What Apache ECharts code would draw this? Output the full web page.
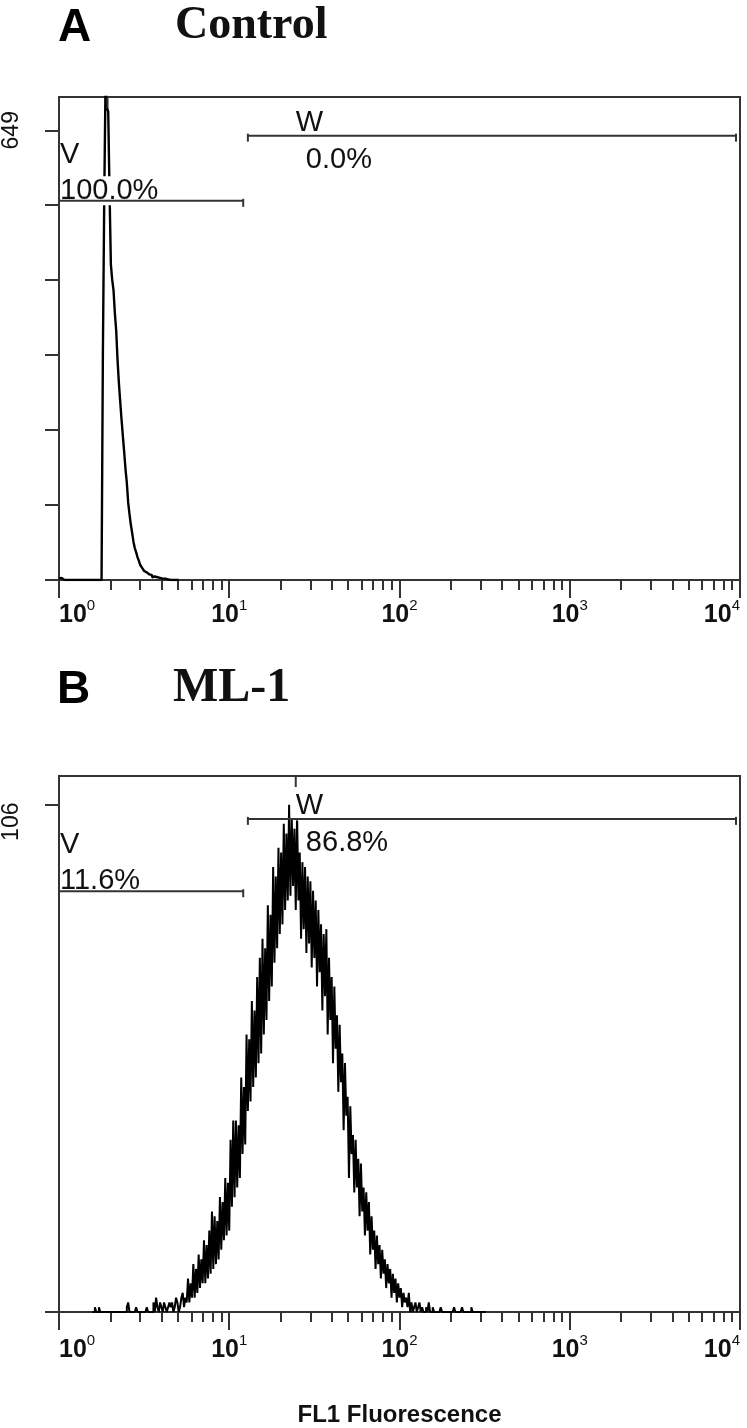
<!DOCTYPE html>
<html><head><meta charset="utf-8">
<script src="https://cdn.jsdelivr.net/npm/echarts@6/dist/echarts.min.js"></script>
<style>html,body{margin:0;padding:0;background:#fff}#c{width:747px;height:1428px}</style>
</head><body><div id="c"></div>
<script>
// ---- data (FL1 channel scale: 1024 channels over 4 log decades) ----
const DECADE_CHANNELS = [0, 256, 512, 768, 1024];
const DECADE_EXPONENTS = ['0', '1', '2', '3', '4'];
const BIN_WIDTH = 2; // channels per histogram bin

// Panel A (Control): counts per 2-channel bin starting at channel 0
const A_START = 0;
const A_COUNTS = [
  2,3,1,0,2,0,1,0, 0,0,0,0,0,0,0,0,
  0,0,0,0,0,0,0,0, 0,0,0,0,0,0,0,0,
  3,328,548,720,682,676,560,455,
  433,418,385,360,318,285,258,232,
  208,185,160,140,112,95,80,68,
  55,46,40,33,28,22,19,16,
  13,11,9,8,6,7,4,5,
  3,4,2,3,1,2,1,2,
  0,1,2,0,1,0,1,0, 0,0
];

// Panel B (ML-1): counts per 2-channel bin starting at channel 50
const B_START = 50;
const B_COUNTS = [
  0,0,1,0, 0,1,0,0, 0,0,0,0, 0,0,0,0,
  0,0,0,0, 0,0,0,0, 0,0,1,2, 0,0,0,0,
  0,1,0,0, 0,0,0,0, 0,1,0,0, 0,0,2,0,
  3,1,0,2, 1,0,2,1, 0,1,2,1, 2,0,1,3,
  2,0,1,3, 4,1,3,2, 7,2,6,3, 10,3,9,4,
  12,5,11,6, 15,6,14,7, 17,8,21,9, 20,10,19,11,
  24,13,23,15, 28,16,27,17, 36,22,40,24, 40,26,39,28,
  49,33,47,35, 58,42,57,44, 65,47,63,49, 70,52,74,54,
  78,58,76,61, 85,65,83,68, 93,73,91,76, 97,79,96,81,
  102,84,100,86, 106,87,103,89, 101,84,104,86, 96,78,94,80,
  93,75,91,77, 90,72,88,74, 86,68,84,71, 81,63,79,66,
  80,58,74,61, 70,52,68,55, 62,46,60,48, 54,38,52,41,
  45,28,43,33, 37,25,36,26, 32,20,31,21, 26,16,25,17,
  23,12,20,13, 17,9,16,10, 14,7,13,8, 11,5,10,6,
  9,3,8,4, 7,2,6,3, 5,1,4,2, 3,1,4,0,
  2,0,1,2, 0,1,2,0, 1,0,0,1, 0,2,0,0,
  1,0,0,0, 0,0,1,0, 0,0,0,0, 0,0,0,0,
  1,0,0,0, 0,0,1,0, 0,0,0,0, 0,1,0,0,
  0,0,0,0, 0,0,0,0
];

const A_Y_MAX = 697, A_Y_LABEL = 649;
const B_Y_MAX = 112, B_Y_LABEL = 106;

// Gates (channels) and their percentages
const GATE_NAMES = ['V', 'W'];
const GATE_FROM = [0, 284];
const GATE_TO = [277, 1018];
const A_PCT = ['100.0%', '0.0%'];
const B_PCT = ['11.6%', '86.8%'];
const A_PEAK_CH = 73, B_PEAK_CH = 356;

const A_TITLE = 'Control', B_TITLE = 'ML-1';
const X_NAME = 'FL1 Fluorescence';

// ---- layout / style ----
const GATE_LEVEL = [0.785, 0.92];
const FRAME = '#333';
const SANS = '"Liberation Sans", Arial, sans-serif';
const SERIF = '"Liberation Serif", "Times New Roman", serif';

function histData(start, counts) {
  const d = counts.map((c, i) => [start + i * BIN_WIDTH, c]);
  d.push([start + counts.length * BIN_WIDTH, 0]);
  return d;
}
const MINOR = [];
for (let d = 0; d < 4; d++) for (let k = 2; k <= 9; k++) MINOR.push(256 * (d + Math.log10(k)));

function xAxes(grid, margin, withName) {
  const major = {
    gridIndex: grid, type: 'value', min: 0, max: 1024, position: 'bottom',
    axisLine: { show: true, onZero: false, lineStyle: { color: FRAME, width: 2 } },
    axisTick: { show: true, customValues: DECADE_CHANNELS, length: 18, lineStyle: { color: FRAME, width: 2 } },
    axisLabel: {
      customValues: DECADE_CHANNELS, margin: margin,
      alignMinLabel: 'left', alignMaxLabel: 'right',
      formatter: v => '{b|10}{s|' + DECADE_EXPONENTS[DECADE_CHANNELS.indexOf(v)] + '}',
      rich: {
        b: { fontSize: 25, fontWeight: 'bold', fontFamily: SANS, color: '#111', lineHeight: 30, verticalAlign: 'bottom' },
        s: { fontSize: 15, fontFamily: SANS, color: '#111', lineHeight: 15, verticalAlign: 'top' }
      }
    },
    splitLine: { show: false }
  };
  if (withName) {
    major.name = X_NAME; major.nameLocation = 'middle'; major.nameGap = 91;
    major.nameTextStyle = { fontSize: 24, fontWeight: 'bold', fontFamily: SANS, color: '#111' };
  }
  const minor = {
    gridIndex: grid, type: 'value', min: 0, max: 1024, position: 'bottom',
    axisLine: { show: false },
    axisTick: { show: true, customValues: MINOR, length: 10, lineStyle: { color: FRAME, width: 2 } },
    axisLabel: { show: false }, splitLine: { show: false }
  };
  return [major, minor];
}
function yAxis(grid, max, ticks, label, padding) {
  return {
    gridIndex: grid, type: 'value', min: 0, max: max,
    axisLine: { show: true, lineStyle: { color: FRAME, width: 2 } },
    axisTick: { show: true, customValues: ticks, length: 14, lineStyle: { color: FRAME, width: 2 } },
    axisLabel: { customValues: [label], rotate: 90, margin: 36, fontSize: 23, fontFamily: SANS, color: '#111', padding: padding },
    splitLine: { show: false }
  };
}
function gateSeries(xi, yi, ymax, pcts) {
  return {
    type: 'custom', xAxisIndex: xi, yAxisIndex: yi, z: 10, silent: true,
    data: GATE_NAMES.map((n, i) => [GATE_FROM[i], GATE_TO[i], i]),
    renderItem: (params, api) => {
      const i = api.value(2);
      const p0 = api.coord([api.value(0), ymax * GATE_LEVEL[i]]);
      const p1 = api.coord([api.value(1), ymax * GATE_LEVEL[i]]);
      const y = p0[1];
      const font = '29px ' + SANS;
      const isV = i === 0;
      const nameY = isV ? y - 46 : y - 13;
      const nameX = isV ? p0[0] + 1 : p0[0] + 48;
      const pctY = isV ? y - 10 : y + 24;
      const pctX = isV ? p0[0] + 1 : p0[0] + 58;
      const ls = { stroke: '#333', lineWidth: 2 };
      return { type: 'group', children: [
        { type: 'text', x: nameX, y: nameY, style: { text: GATE_NAMES[i], font: font, fill: '#111', align: 'left', verticalAlign: 'middle', backgroundColor: '#fff' } },
        { type: 'text', x: pctX, y: pctY, style: { text: pcts[i], font: font, fill: '#111', align: 'left', verticalAlign: 'middle', backgroundColor: '#fff' } },
        { type: 'line', shape: { x1: p0[0], y1: y, x2: p1[0], y2: y }, style: ls },
        { type: 'line', shape: { x1: p0[0], y1: y - 2, x2: p0[0], y2: y + 6 }, style: ls },
        { type: 'line', shape: { x1: p1[0], y1: y - 2, x2: p1[0], y2: y + 6 }, style: ls }
      ]};
    }
  };
}
function peakSeries(xi, yi, ymax, ch) {
  return {
    type: 'custom', xAxisIndex: xi, yAxisIndex: yi, z: 9, silent: true,
    data: [[ch, ymax]],
    renderItem: (params, api) => {
      const p = api.coord([api.value(0), api.value(1)]);
      return { type: 'line', shape: { x1: p[0], y1: p[1], x2: p[0], y2: p[1] + 11 }, style: { stroke: '#333', lineWidth: 2 } };
    }
  };
}
function histSeries(xi, yi, data, w) {
  return {
    type: 'line', xAxisIndex: xi, yAxisIndex: yi, step: 'end', symbol: 'none', clip: true, z: 5,
    data: data, lineStyle: { color: '#000', width: w }, silent: true
  };
}

const A_TICKS = [0, 1, 2, 3, 4, 5, 6].map(i => A_Y_LABEL * i / 6);
const B_TICKS = [0, B_Y_LABEL];

const option = {
  animation: false,
  backgroundColor: '#fff',
  grid: [
    { left: 57, top: 97, width: 683, height: 483, show: true, borderColor: FRAME, borderWidth: 2, backgroundColor: 'transparent' },
    { left: 57, top: 776, width: 683, height: 540, show: true, borderColor: FRAME, borderWidth: 2, backgroundColor: 'transparent' }
  ],
  xAxis: [...xAxes(0, 18, false), ...xAxes(1, 21, true)],
  yAxis: [yAxis(0, A_Y_MAX, A_TICKS, A_Y_LABEL, 0), yAxis(1, B_Y_MAX, B_TICKS, B_Y_LABEL, [0, 34, 0, 0])],
  graphic: [
    { type: 'text', x: 58, y: 28, style: { text: 'A', font: 'bold 46px ' + SANS, fill: '#000', verticalAlign: 'middle' } },
    { type: 'text', x: 175, y: 26, style: { text: A_TITLE, font: 'bold 46px ' + SERIF, fill: '#111', verticalAlign: 'middle' } },
    { type: 'text', x: 57, y: 690, style: { text: 'B', font: 'bold 46px ' + SANS, fill: '#000', verticalAlign: 'middle' } },
    { type: 'text', x: 173, y: 689, style: { text: B_TITLE, font: 'bold 48px ' + SERIF, fill: '#111', verticalAlign: 'middle' } }
  ],
  series: [
    histSeries(0, 0, histData(A_START, A_COUNTS), 2.4),
    gateSeries(0, 0, A_Y_MAX, A_PCT),
    peakSeries(0, 0, A_Y_MAX, A_PEAK_CH),
    histSeries(2, 1, histData(B_START, B_COUNTS), 2),
    gateSeries(2, 1, B_Y_MAX, B_PCT),
    peakSeries(2, 1, B_Y_MAX, B_PEAK_CH)
  ]
};
echarts.init(document.getElementById('c')).setOption(option);
</script></body></html>
